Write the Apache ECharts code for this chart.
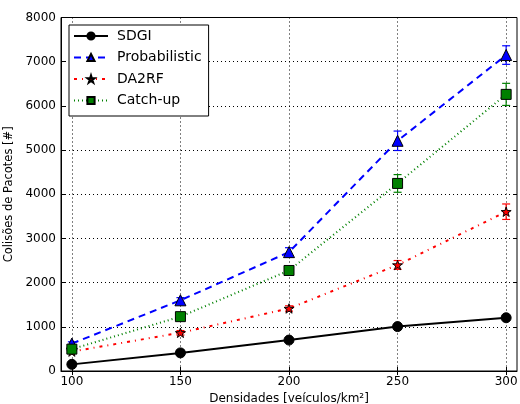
<!DOCTYPE html>
<html><head><meta charset="utf-8">
<script src="https://cdn.jsdelivr.net/npm/echarts@6/dist/echarts.min.js"></script>
<style>html,body{margin:0;padding:0;background:#fff}#c{width:520px;height:404px}</style>
</head><body><div id="c"></div>
<script>
const densities = [100, 150, 200, 250, 300];
const sdgi = [150, 410, 700, 1005, 1205];
const sdgiErr = [30, 30, 30, 30, 30];
const probabilistic = [620, 1600, 2690, 5210, 7150];
const probabilisticErr = [40, 60, 100, 220, 210];
const da2rf = [440, 865, 1415, 2400, 3605];
const da2rfErr = [30, 50, 60, 100, 175];
const catchup = [495, 1230, 2275, 4245, 6260];
const catchupErr = [40, 60, 90, 200, 250];
const xTicks = [100, 150, 200, 250, 300];
const yTicks = [0, 1000, 2000, 3000, 4000, 5000, 6000, 7000, 8000];
const seriesNames = ['SDGI', 'Probabilistic', 'DA2RF', 'Catch-up'];

const FONT = 'DejaVu Sans';

function starPath() {
  const pts = [];
  for (let i = 0; i < 10; i++) {
    const r = i % 2 === 0 ? 10 : 3.82;
    const a = -Math.PI / 2 + i * Math.PI / 5;
    pts.push((r * Math.cos(a)).toFixed(2) + ',' + (r * Math.sin(a)).toFixed(2));
  }
  return 'path://M' + pts.join('L') + 'Z';
}

function errSeries(vals, errs, color) {
  return {
    type: 'custom', silent: true, z: 1,
    data: densities.map((x, i) => [x, vals[i] - errs[i], vals[i] + errs[i]]),
    encode: { x: 0, y: [1, 2] },
    renderItem: function (params, api) {
      const lo = api.coord([api.value(0), api.value(1)]);
      const hi = api.coord([api.value(0), api.value(2)]);
      const w = 4;
      const st = { stroke: color, lineWidth: 1.2 };
      return { type: 'group', children: [
        { type: 'line', shape: { x1: lo[0], y1: lo[1], x2: hi[0], y2: hi[1] }, style: st },
        { type: 'line', shape: { x1: lo[0] - w, y1: lo[1], x2: lo[0] + w, y2: lo[1] }, style: st },
        { type: 'line', shape: { x1: hi[0] - w, y1: hi[1], x2: hi[0] + w, y2: hi[1] }, style: st }
      ] };
    }
  };
}

function lineSeries(name, vals, color, dash, symbol, size) {
  return {
    type: 'line', name: name, z: 3,
    data: densities.map((x, i) => [x, vals[i]]),
    symbol: symbol, symbolSize: size, symbolKeepAspect: true,
    showAllSymbol: true,
    lineStyle: { color: color, width: 2, type: dash },
    itemStyle: { color: color, borderColor: '#000', borderWidth: 1 },
    emphasis: { disabled: true }
  };
}

const chart = echarts.init(document.getElementById('c'), null, { renderer: 'canvas' });
const star = starPath();
chart.setOption({
  animation: false,
  backgroundColor: '#fff',
  textStyle: { fontFamily: FONT },
  grid: { left: 61, right: 3, top: 17.5, bottom: 33, show: true, borderColor: '#000', borderWidth: 1,
          containLabel: false, outerBoundsMode: 'none' },
  legend: {
    data: seriesNames,
    orient: 'vertical',
    left: 69, top: 25,
    padding: [4, 7, 8.5, 4],
    itemWidth: 34, itemHeight: 9, itemGap: 7.5,
    backgroundColor: '#fff', borderColor: '#000', borderWidth: 1,
    textStyle: { fontFamily: FONT, fontSize: 14, color: '#000', padding: [0, 0, 0, 4] }
  },
  xAxis: [{
    type: 'value', min: 95, max: 305,
    name: 'Densidades [veículos/km²]', nameLocation: 'middle', nameGap: 20,
    nameTextStyle: { fontFamily: FONT, fontSize: 12, color: '#000' },
    axisLine: { show: true, lineStyle: { color: '#000', width: 1 } },
    axisTick: { show: true, inside: true, length: 4, customValues: xTicks, lineStyle: { color: '#000' } },
    axisLabel: { customValues: xTicks, fontFamily: FONT, fontSize: 12, color: '#000', margin: 5 },
    splitLine: { show: true, lineStyle: { color: '#000', width: 1, type: [1, 3] } }
  }, {
    type: 'value', min: 95, max: 305, position: 'top',
    axisLine: { show: false },
    axisTick: { show: true, inside: true, length: 4, customValues: xTicks, lineStyle: { color: '#000' } },
    axisLabel: { show: false },
    splitLine: { show: false }
  }],
  yAxis: [{
    type: 'value', min: 0, max: 8000, interval: 1000,
    name: 'Colisões de Pacotes [#]', nameLocation: 'middle', nameGap: 38,
    nameTextStyle: { fontFamily: FONT, fontSize: 11.5, color: '#000' },
    axisLine: { show: true, lineStyle: { color: '#000', width: 1 } },
    axisTick: { show: true, inside: true, length: 4, lineStyle: { color: '#000' } },
    axisLabel: { fontFamily: FONT, fontSize: 12, color: '#000', margin: 5, formatter: v => String(v) },
    splitLine: { show: true, lineStyle: { color: '#000', width: 1, type: [1, 3] } }
  }, {
    type: 'value', min: 0, max: 8000, interval: 1000, position: 'right',
    axisLine: { show: false },
    axisTick: { show: true, inside: true, length: 4, lineStyle: { color: '#000' } },
    axisLabel: { show: false },
    splitLine: { show: false }
  }],
  series: [
    errSeries(sdgi, sdgiErr, '#000000'),
    errSeries(probabilistic, probabilisticErr, '#0000ff'),
    errSeries(da2rf, da2rfErr, '#ff0000'),
    errSeries(catchup, catchupErr, '#008000'),
    lineSeries('SDGI', sdgi, '#000000', 'solid', 'circle', 10),
    lineSeries('Probabilistic', probabilistic, '#0000ff', [7, 5], 'triangle', 11),
    lineSeries('DA2RF', da2rf, '#ff0000', [3, 5, 1, 5], star, 10),
    lineSeries('Catch-up', catchup, '#008000', [1, 3], 'rect', 10)
  ]
});
</script>
</body></html>
